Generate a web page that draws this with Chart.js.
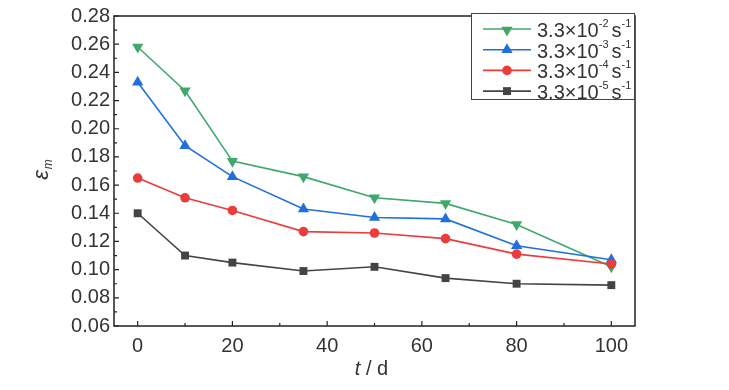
<!DOCTYPE html>
<html>
<head>
<meta charset="utf-8">
<script src="https://cdn.jsdelivr.net/npm/chart.js@4/dist/chart.umd.min.js"></script>
<style>
  html, body { margin: 0; padding: 0; background: #fff; }
  #wrap { width: 729px; height: 390px; }
</style>
</head>
<body>
<div id="wrap"><canvas id="chart" width="729" height="390"></canvas></div>
<script>
// time in days
const days = [0, 10, 20, 35, 50, 65, 80, 100];

// strain rate labels (mantissa x 10^exp s^-1)
const rateLabels = ['3.3×10⁻² s⁻¹', '3.3×10⁻³ s⁻¹', '3.3×10⁻⁴ s⁻¹', '3.3×10⁻⁵ s⁻¹'];
const rateExponents = ['-2', '-3', '-4', '-5'];

const epsRate2 = [0.258, 0.227, 0.177, 0.166, 0.151, 0.147, 0.132, 0.102];
const epsRate3 = [0.233, 0.188, 0.166, 0.143, 0.137, 0.136, 0.117, 0.107];
const epsRate4 = [0.165, 0.151, 0.142, 0.127, 0.126, 0.122, 0.111, 0.104];
const epsRate5 = [0.140, 0.110, 0.105, 0.099, 0.102, 0.094, 0.090, 0.089];

const yTicks = [0.06, 0.08, 0.10, 0.12, 0.14, 0.16, 0.18, 0.20, 0.22, 0.24, 0.26, 0.28];
const xTicks = [0, 20, 40, 60, 80, 100];

const seriesValues = [epsRate2, epsRate3, epsRate4, epsRate5];
const colors = ['#3fa86a', '#1f6fde', '#ec3b3b', '#444444'];
const markers = ['triangle', 'triangle', 'circle', 'rect'];
const rotations = [180, 0, 0, 0];
const radii = [6.5, 6.5, 4.8, 5.6];

const FONT = '"Liberation Sans", Arial, sans-serif';

function toPoints(vals) {
    return vals.map((v, i) => ({ x: days[i], y: v }));
}

const datasets = seriesValues.map((vals, i) => ({
    label: rateLabels[i],
    data: toPoints(vals),
    borderColor: colors[i],
    backgroundColor: colors[i],
    borderWidth: 1.6,
    pointStyle: markers[i],
    pointRotation: rotations[i],
    pointRadius: radii[i],
    pointBorderWidth: 0,
    tension: 0
}));
// draw the first series last so it sits on top like in the original
datasets.reverse();

// box, inward ticks, axis titles and the legend
const framePlugin = {
    id: 'frame',
    afterDraw(chart) {
        const ctx = chart.ctx;
        const a = chart.chartArea;
        const xs = chart.scales.x;
        const ys = chart.scales.y;
        ctx.save();
        ctx.strokeStyle = '#222';
        ctx.lineWidth = 1.5;
        ctx.strokeRect(a.left, a.top, a.right - a.left, a.bottom - a.top);

        ctx.lineWidth = 1.2;
        ctx.beginPath();
        for (let i = 0; i < yTicks.length; i++) {
            const py = ys.getPixelForValue(yTicks[i]);
            ctx.moveTo(a.left, py);
            ctx.lineTo(a.left + 5, py);
            if (i < yTicks.length - 1) {
                const pm = ys.getPixelForValue(yTicks[i] + 0.01);
                ctx.moveTo(a.left, pm);
                ctx.lineTo(a.left + 3, pm);
            }
        }
        for (let i = 0; i < xTicks.length; i++) {
            const px = xs.getPixelForValue(xTicks[i]);
            ctx.moveTo(px, a.bottom);
            ctx.lineTo(px, a.bottom - 5);
            if (i < xTicks.length - 1) {
                const pm = xs.getPixelForValue(xTicks[i] + 10);
                ctx.moveTo(pm, a.bottom);
                ctx.lineTo(pm, a.bottom - 3);
            }
        }
        ctx.stroke();

        // x title: t / d
        ctx.fillStyle = '#333';
        ctx.textBaseline = 'middle';
        const midX = (a.left + a.right) / 2 - 3;
        ctx.font = 'italic 20px ' + FONT;
        const tW = ctx.measureText('t').width;
        ctx.font = '20px ' + FONT;
        const restW = ctx.measureText(' / d').width;
        let sx = midX - (tW + restW) / 2;
        ctx.font = 'italic 20px ' + FONT;
        ctx.textAlign = 'left';
        ctx.fillText('t', sx, 369);
        ctx.font = '20px ' + FONT;
        ctx.fillText(' / d', sx + tW, 369);

        // y title: epsilon_m
        ctx.save();
        ctx.translate(42, (a.top + a.bottom) / 2);
        ctx.rotate(-Math.PI / 2);
        ctx.font = 'italic 22px ' + FONT;
        ctx.textAlign = 'left';
        const eW = ctx.measureText('ε').width;
        ctx.fillText('ε', -eW / 2 - 4, 0);
        ctx.font = 'italic 12px ' + FONT;
        ctx.fillText('m', eW / 2 - 3, 7);
        ctx.restore();

        // legend
        const lx = 471, ly = 13, lw = 163, lh = 86;
        ctx.fillStyle = '#fff';
        ctx.fillRect(lx, ly, lw, lh);
        ctx.strokeStyle = '#444';
        ctx.lineWidth = 1;
        ctx.strokeRect(lx + 0.5, ly + 0.5, lw, lh);
        const ordered = datasets.slice().reverse();
        ordered.forEach((ds, i) => {
            const ry = 29 + i * 20.7;
            ctx.strokeStyle = ds.borderColor;
            ctx.lineWidth = 1.6;
            ctx.beginPath();
            ctx.moveTo(483, ry);
            ctx.lineTo(531, ry);
            ctx.stroke();
            ctx.fillStyle = ds.backgroundColor;
            Chart.helpers.drawPoint(ctx, {
                pointStyle: ds.pointStyle,
                rotation: ds.pointRotation,
                radius: ds.pointRadius,
                borderWidth: 0
            }, 507, ry + (ds.pointRotation === 180 ? 1 : 0));

            ctx.fillStyle = '#333';
            ctx.textAlign = 'left';
            ctx.textBaseline = 'alphabetic';
            let tx = 537;
            const base = ry + 8;
            ctx.font = '20px ' + FONT;
            ctx.fillText('3.3×10', tx, base);
            tx += ctx.measureText('3.3×10').width;
            ctx.font = '11px ' + FONT;
            ctx.fillText(rateExponents[i], tx, base - 10);
            tx += ctx.measureText(rateExponents[i]).width + 3;
            ctx.font = '20px ' + FONT;
            ctx.fillText('s', tx, base);
            tx += ctx.measureText('s').width;
            ctx.font = '11px ' + FONT;
            ctx.fillText('-1', tx, base - 10);
        });
        ctx.restore();
    }
};

new Chart(document.getElementById('chart').getContext('2d'), {
    type: 'line',
    data: { datasets: datasets },
    options: {
        responsive: false,
        animation: false,
        layout: { padding: { left: 0, right: 94, top: 14, bottom: 0 } },
        plugins: {
            legend: { display: false },
            tooltip: { enabled: false }
        },
        scales: {
            x: {
                type: 'linear',
                min: -5,
                max: 105,
                grid: { display: false, drawTicks: false },
                border: { display: false },
                afterBuildTicks(scale) {
                    scale.ticks = xTicks.map(v => ({ value: v }));
                },
                afterFit(scale) { scale.height = 64; },
                ticks: {
                    padding: 8,
                    color: '#333',
                    font: { family: FONT, size: 20 },
                    maxRotation: 0
                }
            },
            y: {
                min: 0.06,
                max: 0.28,
                grid: { display: false, drawTicks: false },
                border: { display: false },
                afterBuildTicks(scale) {
                    scale.ticks = yTicks.map(v => ({ value: v }));
                },
                afterFit(scale) { scale.width = 114; },
                ticks: {
                    padding: 4,
                    color: '#333',
                    font: { family: FONT, size: 20 },
                    callback: v => v.toFixed(2)
                }
            }
        }
    },
    plugins: [framePlugin]
});
</script>
</body>
</html>
